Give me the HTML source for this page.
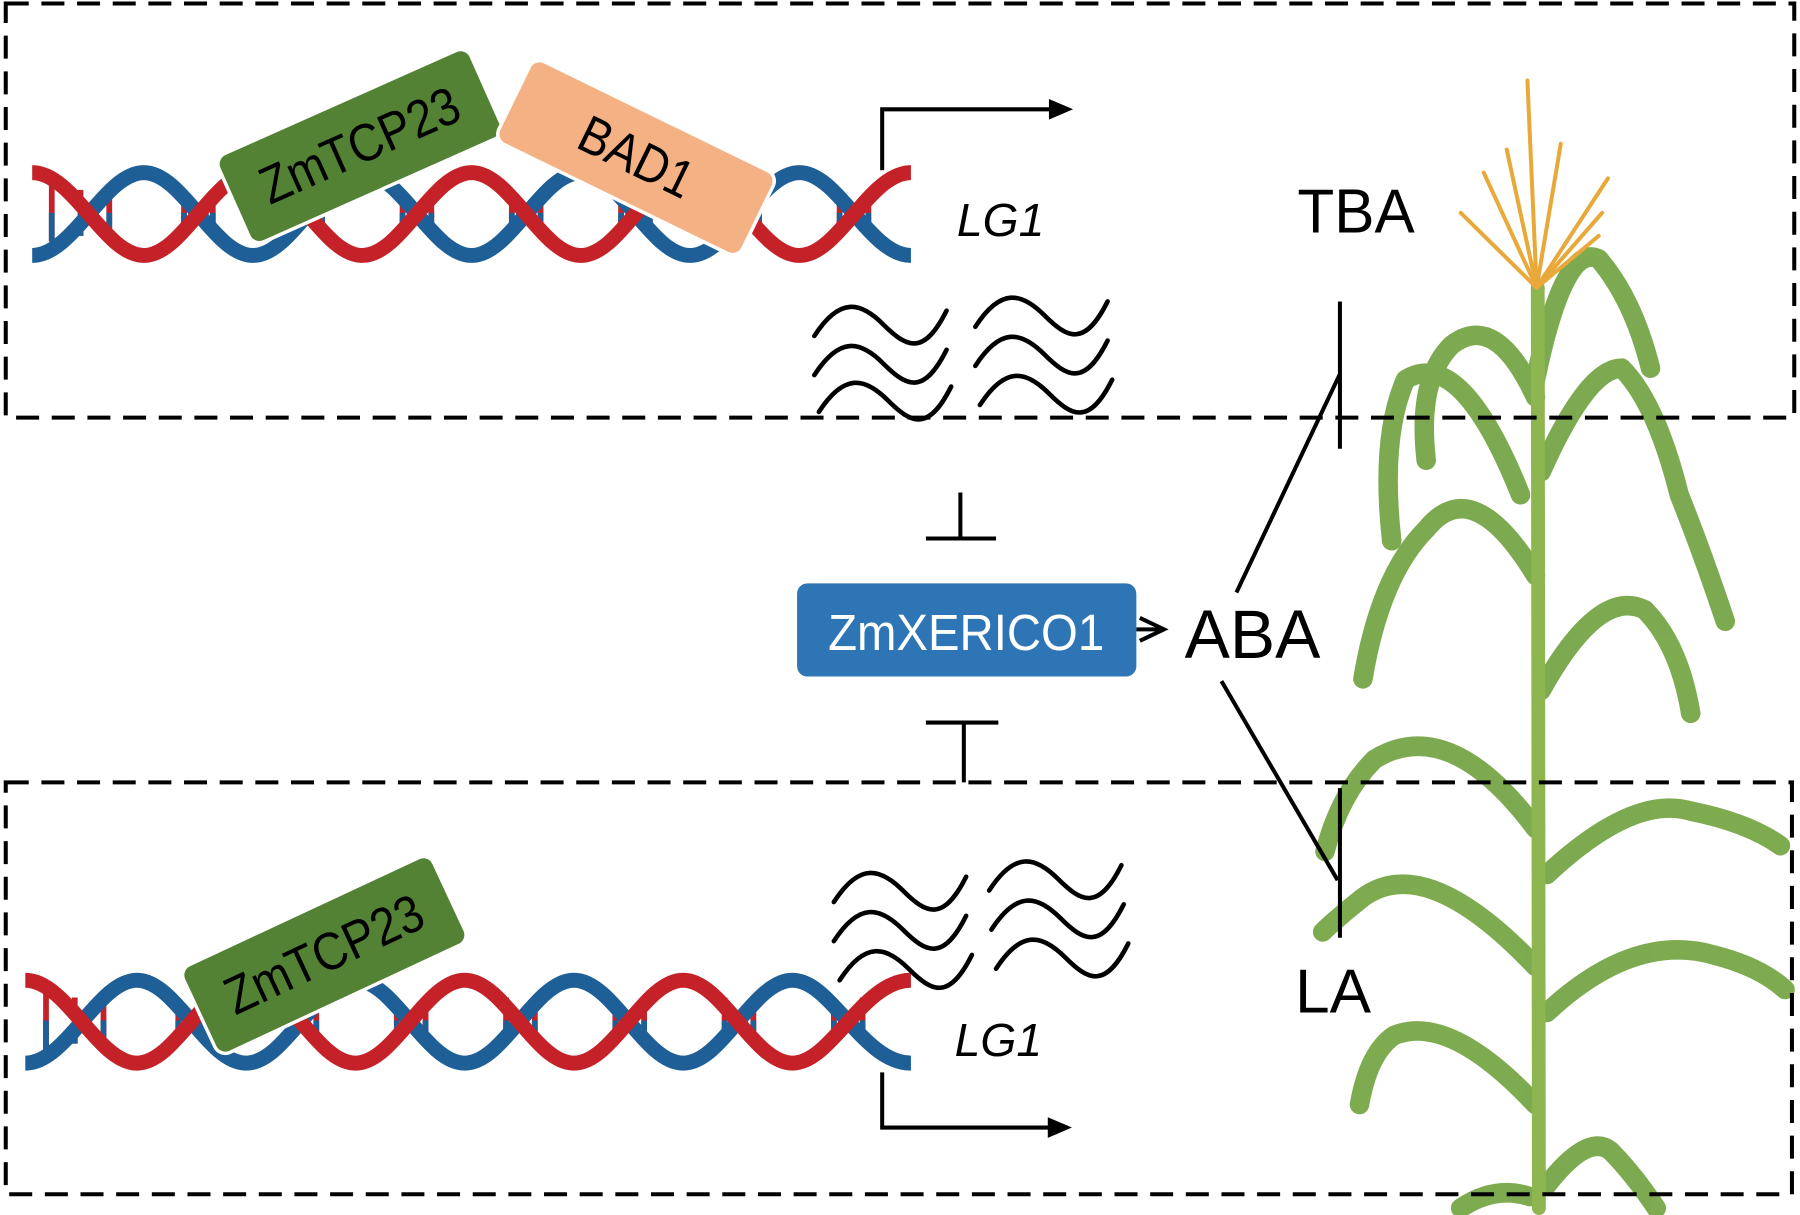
<!DOCTYPE html>
<html><head><meta charset="utf-8"><style>
html,body{margin:0;padding:0;background:#fff;}
svg{display:block;}
text{font-family:"Liberation Sans",sans-serif;}
</style></head><body>
<svg width="1800" height="1215" viewBox="0 0 1565 1056" preserveAspectRatio="none" xmlns="http://www.w3.org/2000/svg">
<defs>
 <path id="sq" d="M0,22 C22,-12 40,-8 60,12 S95,40 115,0"/>
</defs>
<rect width="1565" height="1056" fill="#fff"/>
<!-- plant -->
<g fill="none" stroke-linecap="round" stroke-linejoin="round">
 <g stroke="#77a647" stroke-width="17" opacity="0.95">
  <path d="M1335,330 Q1360,210 1390,225 Q1420,260 1435,320"/>
  <path d="M1335,345 Q1300,270 1262,300 Q1232,330 1240,400"/>
  <path d="M1322,430 Q1270,300 1222,330 Q1200,380 1210,470"/>
  <path d="M1340,410 Q1380,320 1410,320 Q1440,350 1460,430 Q1480,480 1500,540"/>
  <path d="M1335,500 Q1280,410 1240,460 Q1200,500 1185,590"/>
  <path d="M1340,600 Q1390,510 1430,530 Q1460,560 1470,620"/>
  <path d="M1335,720 Q1260,620 1195,660 Q1165,690 1152,740"/>
  <path d="M1345,760 Q1420,690 1470,705 Q1520,715 1548,735"/>
  <path d="M1335,840 Q1240,740 1185,780 Q1160,800 1150,810"/>
  <path d="M1345,880 Q1420,810 1490,830 Q1530,840 1552,860"/>
  <path d="M1335,960 Q1260,880 1212,900 Q1190,915 1182,960"/>
  <path d="M1345,1030 Q1380,985 1400,1000 Q1420,1020 1440,1050"/>
  <path d="M1330,1040 Q1300,1030 1270,1050"/>
 </g>
 <path d="M1337,250 L1338,1050" stroke="#8db550" stroke-width="12"/>
 <g stroke="#e8a93a" stroke-width="3.5">
  <path d="M1336,250 L1328,70"/>
  <path d="M1336,250 L1310,130"/>
  <path d="M1336,250 L1357,125"/>
  <path d="M1336,250 L1290,150"/>
  <path d="M1336,250 L1270,185"/>
  <path d="M1336,250 L1398,155"/>
  <path d="M1336,250 L1393,185"/>
  <path d="M1336,250 L1390,205"/>
 </g>
</g>
<!-- dashed boxes -->
<g fill="none" stroke="#000" stroke-width="3.5" stroke-dasharray="20 11">
 <rect x="5" y="3" width="1555" height="360"/>
 <rect x="5" y="680" width="1553" height="358"/>
</g>
<!-- top DNA -->
<g fill="none" stroke-width="5">
 <g stroke="#c42228">
  <path d="M45,160V210M70,165V205M95,170V200M160,170V200M185,165V205M255,165V205M280,170V200M350,170V200M375,165V205M445,165V205M470,170V200M540,170V200M565,165V205M635,165V205M660,170V200M730,170V200M755,165V205"/>
 </g>
 <g stroke="#1d5f96">
  <path d="M45,185V210M70,185V205M95,185V200M160,185V200M185,185V205M255,185V205M280,185V200M350,185V200M375,185V205M445,185V205M470,185V200M540,185V200M565,185V205M635,185V205M660,185V200M730,185V200M755,185V205"/>
 </g>
</g>
<g fill="none" stroke-width="13">
 <path stroke="#1d5f96" d="M28,222 C64,222 91,150 125,150 C159,150 186,222 220,222 C254,222 281,150 315,150 C349,150 376,222 410,222 C444,222 471,150 505,150 C539,150 566,222 600,222 C634,222 661,150 695,150 C729,150 756,222 792,222"/>
 <path stroke="#c42228" d="M28,150 C64,150 91,222 125,222 C159,222 186,150 220,150 C254,150 281,222 315,222 C349,222 376,150 410,150 C444,150 471,222 505,222 C539,222 566,150 600,150 C634,150 661,222 695,222 C729,222 756,150 792,150"/>
</g>
<!-- bottom DNA -->
<g fill="none" stroke-width="5">
 <g stroke="#c42228">
  <path d="M40,862V912M65,867V907M90,872V902M155,872V902M180,867V907M250,867V907M275,872V902M345,872V902M370,867V907M440,867V907M465,872V902M535,872V902M560,867V907M630,867V907M655,872V902M725,872V902M750,867V907"/>
 </g>
 <g stroke="#1d5f96">
  <path d="M40,887V912M65,887V907M90,887V902M155,887V902M180,887V907M250,887V907M275,887V902M345,887V902M370,887V907M440,887V907M465,887V902M535,887V902M560,887V907M630,887V907M655,887V902M725,887V902M750,887V907"/>
 </g>
</g>
<g fill="none" stroke-width="13">
 <path stroke="#1d5f96" d="M22,924 C58,924 85,852 119,852 C153,852 180,924 214,924 C248,924 275,852 309,852 C343,852 370,924 404,924 C438,924 465,852 499,852 C533,852 560,924 594,924 C628,924 655,852 689,852 C723,852 750,924 792,924"/>
 <path stroke="#c42228" d="M22,852 C58,852 85,924 119,924 C153,924 180,852 214,852 C248,852 275,924 309,924 C343,924 370,852 404,852 C438,852 465,924 499,924 C533,924 560,852 594,852 C628,852 655,924 689,924 C723,924 750,852 792,852"/>
</g>
<!-- protein boxes -->
<g transform="translate(313,127) rotate(-24)">
 <rect x="-120" y="-42" width="240" height="84" rx="10" fill="#548235" stroke="#fff" stroke-width="3"/>
 <text x="0" y="15" text-anchor="middle" font-size="46" fill="#000" textLength="185" lengthAdjust="spacingAndGlyphs">ZmTCP23</text>
</g>
<g transform="translate(553,137) rotate(26)">
 <rect x="-118" y="-40" width="236" height="80" rx="10" fill="#f4b183" stroke="#fff" stroke-width="3"/>
 <text x="0" y="15" text-anchor="middle" font-size="46" fill="#000" textLength="105" lengthAdjust="spacingAndGlyphs">BAD1</text>
</g>
<g transform="translate(282,830) rotate(-25)">
 <rect x="-120" y="-42" width="240" height="84" rx="10" fill="#548235" stroke="#fff" stroke-width="3"/>
 <text x="0" y="15" text-anchor="middle" font-size="46" fill="#000" textLength="185" lengthAdjust="spacingAndGlyphs">ZmTCP23</text>
</g>
<!-- promoter arrows -->
<g fill="none" stroke="#000" stroke-width="3.5">
 <path d="M767,148 V95 H918"/>
 <path d="M767,932 V980 H915"/>
</g>
<path d="M933,95 L912,86 L912,104 Z"/>
<path d="M932,980 L911,971 L911,989 Z"/>
<text x="832" y="205" font-size="40" font-style="italic" textLength="76" lengthAdjust="spacingAndGlyphs">LG1</text>
<text x="830" y="918" font-size="40" font-style="italic" textLength="76" lengthAdjust="spacingAndGlyphs">LG1</text>
<!-- squiggles -->
<g fill="none" stroke="#000" stroke-width="4" stroke-linecap="round">
 <use href="#sq" x="708" y="270"/><use href="#sq" x="708" y="304"/><use href="#sq" x="712" y="336"/>
 <use href="#sq" x="848" y="262"/><use href="#sq" x="848" y="296"/><use href="#sq" x="852" y="330"/>
 <use href="#sq" x="725" y="762"/><use href="#sq" x="725" y="796"/><use href="#sq" x="730" y="830"/>
 <use href="#sq" x="860" y="752"/><use href="#sq" x="862" y="786"/><use href="#sq" x="866" y="820"/>
</g>
<!-- inhibition bars -->
<g fill="none" stroke="#000" stroke-width="3.5">
 <path d="M835,428 V468 M805,468 H866"/>
 <path d="M805,628 H868 M838,628 V680"/>
 <path d="M1075,515 L1165,325 M1165,262 V390"/>
 <path d="M1062,592 L1163,765 M1165,685 V815"/>
 <path d="M991,537 L1012,547 L991,557 M988,547 H1012"/>
</g>
<rect x="693" y="507" width="295" height="81" rx="9" fill="#2e75b6"/>
<text x="840" y="565" text-anchor="middle" font-size="44" fill="#fff" textLength="240" lengthAdjust="spacingAndGlyphs">ZmXERICO1</text>
<text x="1030" y="572" font-size="60" textLength="118" lengthAdjust="spacingAndGlyphs">ABA</text>
<text x="1128" y="202" font-size="54" textLength="102" lengthAdjust="spacingAndGlyphs">TBA</text>
<text x="1126" y="880" font-size="54" textLength="66" lengthAdjust="spacingAndGlyphs">LA</text>
</svg>
</body></html>
